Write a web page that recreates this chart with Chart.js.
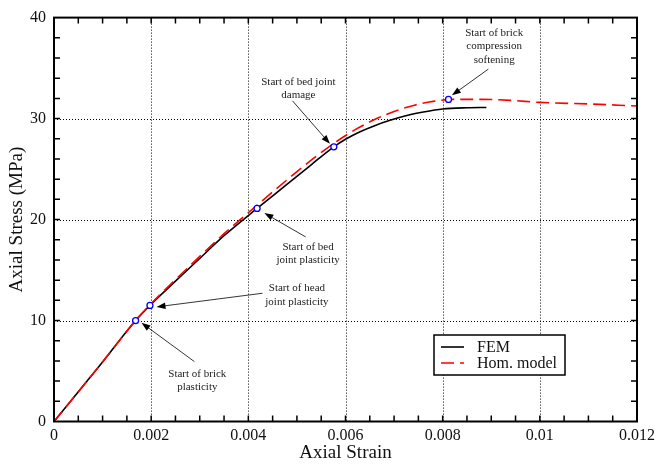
<!DOCTYPE html>
<html>
<head>
<meta charset="utf-8">
<script src="https://cdn.jsdelivr.net/npm/chart.js@4.4.1/dist/chart.umd.min.js"></script>
<style>
  html, body { margin: 0; padding: 0; background: #fff; }
  #wrap { width: 660px; height: 464px; }
</style>
</head>
<body>
<div id="wrap"><canvas id="grafico" width="660" height="464"></canvas></div>
<script>
// FEM curve (strain, stress in MPa)
const femStrain = [0, 0.001, 0.00168, 0.001975, 0.0025, 0.003, 0.0035, 0.00418, 0.0048, 0.0053, 0.00576, 0.006, 0.0063, 0.0066, 0.0069, 0.0073, 0.0076, 0.008, 0.0085, 0.0089];
const femStress = [0, 5.9, 10.0, 11.5, 13.9, 16.15, 18.4, 21.1, 23.5, 25.45, 27.2, 27.95, 28.7, 29.3, 29.8, 30.35, 30.65, 30.95, 31.07, 31.1];

// Homogenised model curve
const homStrain = [0, 0.001, 0.00168, 0.001975, 0.0025, 0.003, 0.0035, 0.0042, 0.0048, 0.0053, 0.00576, 0.0062, 0.0066, 0.007, 0.0074, 0.0078, 0.0082, 0.0088, 0.0094, 0.01, 0.011, 0.012];
const homStress = [0, 5.9, 10.0, 11.55, 14.05, 16.35, 18.6, 21.5, 23.95, 25.9, 27.55, 28.9, 29.9, 30.7, 31.3, 31.7, 31.9, 31.9, 31.8, 31.6, 31.45, 31.25];

// Damage / plasticity onset markers
const eventStrain = [0.00168, 0.001975, 0.00418, 0.00576, 0.00812];
const eventStress = [10.0, 11.5, 21.1, 27.2, 31.9];
const eventText = [
  ['Start of brick', 'plasticity'],
  ['Start of head', 'joint plasticity'],
  ['Start of bed', 'joint plasticity'],
  ['Start of bed joint', 'damage'],
  ['Start of brick', 'compression', 'softening']
];
// label anchor (strain, stress of first line) and arrow tail / tip
const labelAt = [[0.00295, 4.7], [0.0050, 13.2], [0.00523, 17.3], [0.00503, 33.65], [0.00906, 38.5]];
const arrowFrom = [[0.00289, 5.93], [0.00429, 12.7], [0.00518, 18.28], [0.00491, 31.75], [0.00894, 34.9]];
const arrowTo = [[0.0018, 9.78], [0.00211, 11.35], [0.00433, 20.64], [0.00568, 27.5], [0.00819, 32.3]];

const xTicks = [0, 0.002, 0.004, 0.006, 0.008, 0.01, 0.012];
const yTicks = [0, 10, 20, 30, 40];

const serif = 'Liberation Serif';
const pts = (xs, ys) => xs.map((x, i) => ({ x: x, y: ys[i] }));

const moldura = {
    id: 'moldura',
    beforeDatasetsDraw(chart) {
        const { ctx, chartArea: a, scales: { x, y } } = chart;
        ctx.save();
        ctx.strokeStyle = '#000';
        ctx.lineWidth = 1;
        ctx.setLineDash([1, 2]);
        xTicks.slice(1, -1).forEach(v => {
            const px = Math.round(x.getPixelForValue(v)) + 0.5;
            ctx.beginPath(); ctx.moveTo(px, a.top); ctx.lineTo(px, a.bottom); ctx.stroke();
        });
        yTicks.slice(1, -1).forEach(v => {
            const py = Math.round(y.getPixelForValue(v)) + 0.5;
            ctx.beginPath(); ctx.moveTo(a.left, py); ctx.lineTo(a.right, py); ctx.stroke();
        });
        ctx.restore();
    },
    afterDatasetsDraw(chart) {
        const { ctx, chartArea: a, scales: { x, y } } = chart;
        ctx.save();
        ctx.strokeStyle = '#000';
        ctx.lineWidth = 1.5;
        // inward ticks on all four sides
        const len = 6;
        for (let v = 0.0005; v < 0.012; v += 0.0005) {
            const px = x.getPixelForValue(v);
            ctx.beginPath();
            ctx.moveTo(px, a.bottom); ctx.lineTo(px, a.bottom - len);
            ctx.moveTo(px, a.top); ctx.lineTo(px, a.top + len);
            ctx.stroke();
        }
        for (let v = 2; v < 40; v += 2) {
            const py = y.getPixelForValue(v);
            ctx.beginPath();
            ctx.moveTo(a.left, py); ctx.lineTo(a.left + len, py);
            ctx.moveTo(a.right, py); ctx.lineTo(a.right - len, py);
            ctx.stroke();
        }
        ctx.lineWidth = 2;
        ctx.strokeRect(a.left, a.top, a.right - a.left, a.bottom - a.top);

        // annotations
        ctx.fillStyle = '#222';
        ctx.font = '11px "' + serif + '"';
        ctx.textAlign = 'center';
        ctx.textBaseline = 'middle';
        eventText.forEach((linhas, i) => {
            const cx = x.getPixelForValue(labelAt[i][0]);
            const cy = y.getPixelForValue(labelAt[i][1]);
            linhas.forEach((t, k) => ctx.fillText(t, cx, cy + k * 13.5));
            const x0 = x.getPixelForValue(arrowFrom[i][0]), y0 = y.getPixelForValue(arrowFrom[i][1]);
            const x1 = x.getPixelForValue(arrowTo[i][0]), y1 = y.getPixelForValue(arrowTo[i][1]);
            const ang = Math.atan2(y1 - y0, x1 - x0);
            ctx.strokeStyle = '#000';
            ctx.lineWidth = 0.8;
            ctx.beginPath(); ctx.moveTo(x0, y0); ctx.lineTo(x1 - 6 * Math.cos(ang), y1 - 6 * Math.sin(ang)); ctx.stroke();
            ctx.fillStyle = '#000';
            ctx.beginPath();
            ctx.moveTo(x1, y1);
            ctx.lineTo(x1 - 9 * Math.cos(ang) + 3.2 * Math.sin(ang), y1 - 9 * Math.sin(ang) - 3.2 * Math.cos(ang));
            ctx.lineTo(x1 - 9 * Math.cos(ang) - 3.2 * Math.sin(ang), y1 - 9 * Math.sin(ang) + 3.2 * Math.cos(ang));
            ctx.closePath(); ctx.fill();
            ctx.fillStyle = '#222';
        });

        // legend box
        const lx = 434, ly = 335, lw = 131, lh = 40;
        ctx.fillStyle = '#fff';
        ctx.fillRect(lx, ly, lw, lh);
        ctx.lineWidth = 1.5;
        ctx.strokeStyle = '#000';
        ctx.strokeRect(lx, ly, lw, lh);
        ctx.font = '16px "' + serif + '"';
        ctx.textAlign = 'left';
        chart.data.datasets.slice(0, 2).forEach((ds, i) => {
            const yy = ly + 12 + i * 16;
            ctx.strokeStyle = ds.borderColor;
            ctx.lineWidth = ds.borderWidth;
            ctx.setLineDash(ds.borderDash || []);
            ctx.beginPath(); ctx.moveTo(lx + 7, yy); ctx.lineTo(lx + 30, yy); ctx.stroke();
            ctx.setLineDash([]);
            ctx.fillStyle = '#111';
            ctx.fillText(ds.label, lx + 43, yy + 1);
        });
        ctx.restore();
    }
};

new Chart(document.getElementById('grafico'), {
    type: 'scatter',
    data: {
        datasets: [{
            label: 'FEM',
            data: pts(femStrain, femStress),
            showLine: true,
            borderColor: '#000000',
            borderWidth: 1.6,
            pointRadius: 0,
            cubicInterpolationMode: 'monotone',
            order: 2
        }, {
            label: 'Hom. model',
            data: pts(homStrain, homStress),
            showLine: true,
            borderColor: '#ff0000',
            borderWidth: 1.6,
            borderDash: [13, 6],
            pointRadius: 0,
            cubicInterpolationMode: 'monotone',
            order: 1
        }, {
            label: 'events',
            data: pts(eventStrain, eventStress),
            showLine: false,
            pointRadius: 3,
            pointBorderWidth: 1.3,
            pointBorderColor: '#0000ff',
            pointBackgroundColor: '#ffffff',
            order: 0
        }]
    },
    options: {
        responsive: false,
        animation: false,
        layout: { padding: { top: 13.5, right: 21, left: 0, bottom: 0 } },
        plugins: { legend: { display: false }, tooltip: { enabled: false } },
        scales: {
            x: {
                type: 'linear',
                min: 0,
                max: 0.012,
                grid: { display: false, drawTicks: false },
                border: { display: false },
                afterFit: s => { s.height = 42.5; },
                afterBuildTicks: s => { s.ticks = xTicks.map(v => ({ value: v })); },
                ticks: {
                    color: '#111',
                    padding: 5,
                    maxRotation: 0,
                    font: { family: serif, size: 16 },
                    callback: v => String(+v.toFixed(3))
                },
                title: {
                    display: true,
                    text: 'Axial Strain',
                    color: '#111',
                    font: { family: serif, size: 19 },
                    padding: 0
                }
            },
            y: {
                type: 'linear',
                min: 0,
                max: 40,
                grid: { display: false, drawTicks: false },
                border: { display: false },
                afterFit: s => { s.width = 54; },
                afterBuildTicks: s => { s.ticks = yTicks.map(v => ({ value: v })); },
                ticks: {
                    color: '#111',
                    padding: 8,
                    font: { family: serif, size: 16 }
                },
                title: {
                    display: true,
                    text: 'Axial Stress (MPa)',
                    color: '#111',
                    font: { family: serif, size: 19 },
                    padding: { top: 6, bottom: 0 }
                }
            }
        }
    },
    plugins: [moldura]
});
</script>
</body>
</html>
